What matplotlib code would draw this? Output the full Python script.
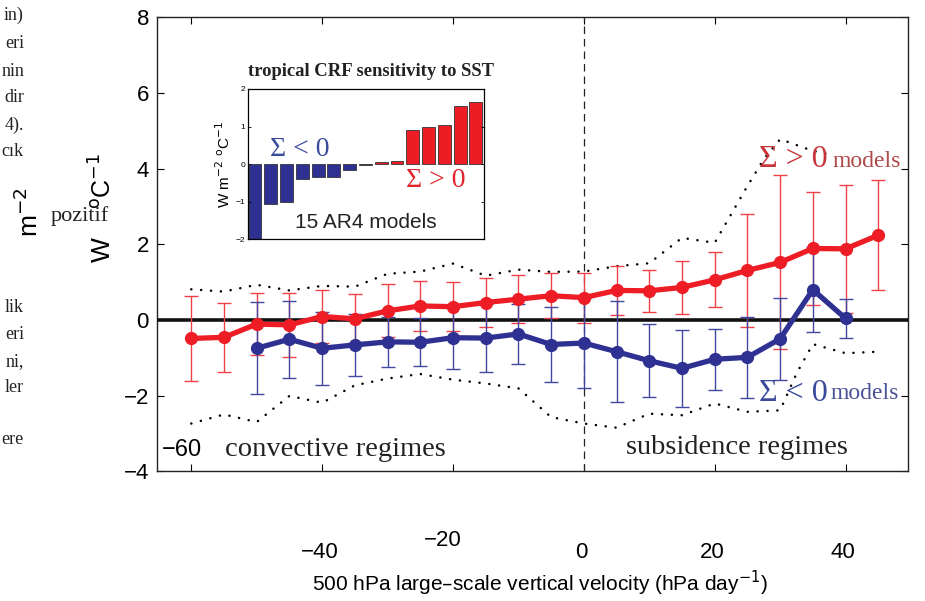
import numpy as np
import matplotlib
matplotlib.use("Agg")
import matplotlib.pyplot as plt

# --- datos ---
omega_red = [-60, -55, -50, -45, -40, -35, -30, -25, -20, -15, -10, -5, 0,
             5, 10, 15, 20, 25, 30, 35, 40, 45]
crf_red = [-0.49, -0.46, -0.11, -0.13, 0.09, 0.03, 0.24, 0.37, 0.35, 0.46, 0.55, 0.64, 0.59,
           0.78, 0.77, 0.86, 1.06, 1.31, 1.52, 1.89, 1.88, 2.24]
err_red = [1.13, 0.92, 0.82, 0.85, 0.70, 0.65, 0.70, 0.65, 0.64, 0.64, 0.64, 0.60, 0.66,
           0.65, 0.56, 0.69, 0.73, 1.50, 2.30, 1.50, 1.70, 1.46]

omega_blue = [-50, -45, -40, -35, -30, -25, -20, -15, -10, -5, 0,
              5, 10, 15, 20, 25, 30, 35, 40]
crf_blue = [-0.75, -0.51, -0.75, -0.66, -0.58, -0.59, -0.47, -0.48, -0.37, -0.65, -0.61,
            -0.84, -1.08, -1.28, -1.04, -0.99, -0.50, 0.80, 0.04]
err_blue = [1.22, 1.02, 0.97, 0.83, 0.66, 0.63, 0.84, 0.91, 0.80, 0.98, 1.18,
            1.33, 0.96, 1.01, 0.81, 1.08, 1.08, 1.13, 0.51]

omega_upper = [-60, -55, -50, -45, -40, -35, -30, -25, -20, -15, -10, -5, 0,
               5, 10, 15, 20, 25, 27.5, 30, 35, 37]
dots_upper = [0.81, 0.75, 0.93, 0.78, 0.90, 0.88, 1.22, 1.28, 1.49, 1.17, 1.33, 1.27, 1.28,
              1.42, 1.50, 2.17, 2.04, 3.54, 4.25, 4.78, 4.47, 4.40]
omega_lower = [-60, -55, -50, -45, -40, -35, -30, -25, -20, -15, -10, -5, 0,
               5, 10, 15, 20, 25, 30, 32.5, 35, 40, 45]
dots_lower = [-2.74, -2.50, -2.70, -2.01, -2.19, -1.73, -1.55, -1.43, -1.58, -1.68, -1.81, -2.57, -2.74,
              -2.85, -2.48, -2.52, -2.21, -2.43, -2.39, -1.42, -0.64, -0.88, -0.84]

# inset: 15 modelos AR4
model_idx = list(range(1, 16))
model_sens = [-2.0, -1.05, -1.0, -0.4, -0.35, -0.35, -0.15, -0.02,
              0.05, 0.08, 0.9, 1.0, 1.05, 1.55, 1.65]

xticks_main = [-60, -40, -20, 0, 20, 40]
yticks_main = [-4, -2, 0, 2, 4, 6, 8]
ytick_labels = ["\u22124", "\u22122", "0", "2", "4", "6", "8"]

RED = "#ee1c25"
BLUE = "#2e3192"
SANS = ["Liberation Sans", "DejaVu Sans"]
SERIF = ["Liberation Serif", "DejaVu Serif"]
DOTS = (0, (0.05, 3.9))

fig = plt.figure(figsize=(9.25, 6.01), dpi=100)
ax = fig.add_axes([0.170, 0.216, 0.812, 0.755])

ax.plot(omega_upper, dots_upper, color="k", lw=1.8, linestyle=DOTS, dash_capstyle="round")
ax.plot(omega_lower, dots_lower, color="k", lw=1.8, linestyle=DOTS, dash_capstyle="round")
ax.axhline(0, color="#111111", lw=2.6, zorder=3)
ax.axvline(0, color="#222222", lw=0.9, linestyle=(0, (6, 4)), zorder=2)

ax.errorbar(omega_red, crf_red, yerr=err_red, fmt="none", ecolor="#f04048",
            elinewidth=1.0, capsize=5, capthick=1.0, zorder=4)
ax.errorbar(omega_blue, crf_blue, yerr=err_blue, fmt="none", ecolor="#4048a0",
            elinewidth=1.0, capsize=5, capthick=1.0, zorder=4)
ax.plot(omega_red, crf_red, color=RED, lw=3.8, marker="o", ms=8.5, zorder=5)
ax.plot(omega_blue, crf_blue, color=BLUE, lw=3.8, marker="o", ms=8.5, zorder=6)

ax.set_xlim(-65.2, 49.6)
ax.set_ylim(-4, 8)
ax.set_xticks(xticks_main)
ax.set_xticklabels([])
ax.set_yticks(yticks_main)
ax.set_yticklabels(ytick_labels, fontsize=16, family=SANS)
ax.tick_params(direction="in", length=5, top=True, right=True, width=0.8, pad=6)
for s in ax.spines.values():
    s.set_linewidth(1.0)
    s.set_color("#222222")

# textos dentro del eje
ax.text(-64.5, -3.45, "\u221260", fontsize=17, family=SANS, va="center")
ax.text(-54.8, -3.42, "convective regimes", fontsize=20.5, family=SERIF, color="#222222", va="center")
ax.text(6.5, -3.38, "subsidence regimes", fontsize=20.5, family=SERIF, color="#222222", va="center")
ax.text(26.7, 4.25, "\u03a3 > 0", fontsize=23, family=SERIF, color="#c8343a", va="center")
ax.text(38.0, 4.18, "models", fontsize=17, family=SERIF, color="#b04848", va="center")
ax.text(26.8, -1.95, "\u03a3 < 0", fontsize=23, family=SERIF, color="#3a4a9a", va="center")
ax.text(37.7, -1.95, "models", fontsize=17, family=SERIF, color="#4a5296", va="center")

# etiquetas del eje x desplazadas (como en el escaneo)
fig.text(320 / 925, 1 - 553 / 601, "\u221240", fontsize=16, family=SANS, ha="center", va="center")
fig.text(443 / 925, 1 - 540 / 601, "\u221220", fontsize=16, family=SANS, ha="center", va="center")
fig.text(581 / 925, 1 - 553 / 601, "0", fontsize=16, family=SANS, ha="center", va="center")
fig.text(712 / 925, 1 - 553 / 601, "20", fontsize=16, family=SANS, ha="center", va="center")
fig.text(843 / 925, 1 - 553 / 601, "40", fontsize=16, family=SANS, ha="center", va="center")
fig.text(540 / 925, 1 - 583 / 601, "500 hPa large\u2013scale vertical velocity (hPa day$^{-1}$)",
         fontsize=15, family=SANS, ha="center", va="center")

# etiqueta del eje y en pedazos
fig.text(103 / 925, 1 - 250 / 601, "W", fontsize=19, family=SANS, rotation=90, ha="center", va="center")
fig.text(103 / 925, 1 - 181 / 601, "$^{\\rm o}$C$^{-1}$", fontsize=18, family=SANS, rotation=90,
         ha="center", va="center")
fig.text(29 / 925, 1 - 212 / 601, "m$^{-2}$", fontsize=19, family=SANS, rotation=90, ha="center", va="center")
fig.text(80 / 925, 1 - 216 / 601, "pozitif", fontsize=16, family=SERIF, ha="center", va="center",
         color="#222222")

# restos de texto de la pagina
fragmentos = [("in)", 15), ("eri", 43), ("nin", 71), ("dir", 97), ("4).", 125), ("cık", 152),
              ("lik", 308), ("eri", 335), ("ni,", 362), ("ler", 388), ("ere", 440)]
for txt, ypix in fragmentos:
    fig.text(24 / 925, 1 - ypix / 601, txt, fontsize=13, family=SERIF, ha="right", va="center",
             color="#222222")

# inset
axi = fig.add_axes([0.268, 0.602, 0.255, 0.250])
colores = [BLUE] * 7 + ["#1a1a2a"] + [RED] * 7
axi.bar(model_idx, model_sens, width=0.82, color=colores, edgecolor="#333333", linewidth=0.6)
axi.set_xlim(0.55, 15.5)
axi.set_ylim(-2, 2)
axi.set_xticks([])
axi.set_yticks([-2, -1, 0, 1, 2])
axi.set_yticklabels(["\u22122", "\u22121", "0", "1", "2"], fontsize=6, family=SANS)
axi.tick_params(direction="in", length=2.5, right=True, width=0.6, pad=2)
for s in axi.spines.values():
    s.set_linewidth(0.9)
axi.set_ylabel("W m$^{-2}$ $^{\\rm o}$C$^{-1}$", fontsize=11, family=SANS, labelpad=2)
axi.set_title("tropical CRF sensitivity to SST", fontsize=13.4, family=SERIF, fontweight="bold",
              pad=9, color="#222222", x=0.52)
axi.text(1.95, 0.4, "\u03a3 < 0", fontsize=20, family=SERIF, color="#3a4a9a", va="center")
axi.text(10.6, -0.45, "\u03a3 > 0", fontsize=20, family=SERIF, color="#e0242c", va="center")
axi.text(8.0, -1.55, "15 AR4 models", fontsize=15, family=SANS, ha="center", va="center",
         color="#222222")

fig.savefig("out.png", dpi=100)
